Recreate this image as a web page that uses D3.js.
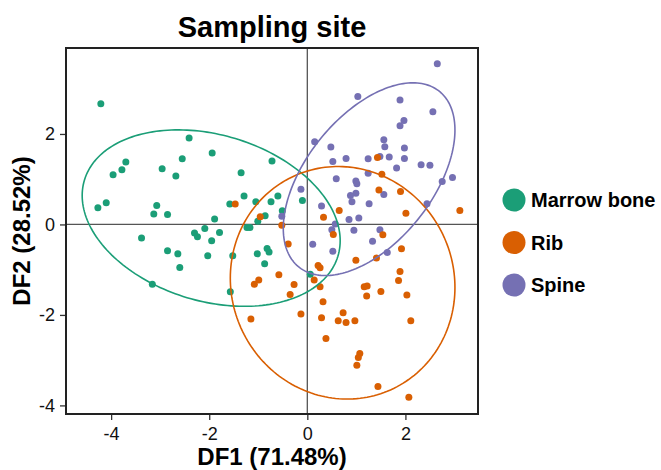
<!DOCTYPE html>
<html>
<head>
<meta charset="utf-8">
<script src="https://cdn.jsdelivr.net/npm/d3@7"></script>
<style>
  html, body { margin: 0; padding: 0; background: #fff; }
  svg { display: block; font-family: "Liberation Sans", Arial, sans-serif; }
</style>
</head>
<body>
<svg id="chart" width="661" height="470"></svg>
<script>
// Discriminant scores per sampling site: [DF1, DF2]
const marrowBone = [
  [-4.21, 2.67], [-2.41, 1.91], [-3.70, 1.38], [-2.55, 1.45], [-3.78, 1.21],
  [-3.96, 1.10], [-2.96, 1.23], [-2.68, 1.07], [-1.94, 1.58], [-0.72, 1.40],
  [-1.35, 1.14], [-1.29, 0.63], [-1.58, 0.45], [-1.05, 0.50], [-0.74, 0.50],
  [-0.60, 0.63], [-0.10, 0.53], [-0.51, 0.30], [-0.86, 0.19], [-1.01, 0.07],
  [-1.89, 0.12], [-2.09, -0.09], [-1.79, -0.18], [-1.23, -0.07], [-1.17, -0.07],
  [-2.30, -0.19], [-2.24, -0.27], [-1.95, -0.36], [-0.82, -0.53], [-0.78, -0.61],
  [-1.02, -0.65], [-1.52, -0.69], [-2.03, -0.69], [-0.87, -0.87], [-1.57, -1.49],
  [0.06, -1.10], [-4.10, 0.48], [-4.27, 0.37], [-3.07, 0.42], [-3.13, 0.23],
  [-2.85, 0.22], [-3.38, -0.30], [-2.85, -0.58], [-2.64, -0.65], [-2.60, -0.95],
  [-3.16, -1.32]
];
const rib = [
  [-1.47, 0.45], [-0.96, 0.17], [-0.52, -0.02], [-0.39, -0.43], [1.43, 1.48],
  [1.52, 1.11], [1.46, 0.76], [1.90, 0.73], [3.11, 0.31], [2.01, 0.25],
  [0.65, 0.31], [0.33, 0.16], [0.53, -0.22], [1.54, -0.23], [1.92, -0.54],
  [0.99, -0.79], [1.41, -0.74], [0.22, -0.91], [0.26, -0.96], [1.89, -1.04],
  [1.86, -1.24], [0.14, -1.23], [-0.58, -1.11], [-0.99, -1.23], [-1.08, -1.32],
  [-0.27, -1.33], [-0.35, -1.55], [0.26, -1.38], [1.16, -1.38], [1.22, -1.36],
  [1.21, -1.58], [1.50, -1.48], [2.03, -1.56], [0.32, -1.71], [0.29, -2.06],
  [-0.13, -1.98], [0.63, -2.13], [0.73, -1.95], [0.79, -2.17], [0.97, -2.13],
  [2.11, -2.13], [-1.15, -2.09], [0.38, -2.52], [1.07, -2.85], [1.04, -2.94],
  [1.01, -3.11], [1.44, -3.58], [2.07, -3.82]
];
const spine = [
  [2.65, 3.55], [1.03, 2.83], [1.89, 2.75], [2.56, 2.49], [1.97, 2.30],
  [1.89, 2.18], [0.15, 1.83], [0.48, 1.71], [1.56, 1.87], [1.58, 1.72],
  [1.98, 1.69], [0.52, 1.39], [0.79, 1.46], [1.24, 1.45], [1.48, 1.50],
  [1.67, 1.49], [1.98, 1.46], [1.82, 1.25], [2.32, 1.32], [2.50, 1.31],
  [1.24, 1.13], [0.59, 1.01], [0.99, 0.96], [1.01, 0.90], [0.99, 0.69],
  [0.88, 0.64], [0.91, 0.50], [1.56, 0.66], [2.75, 0.95], [2.96, 1.04],
  [2.44, 0.46], [1.26, 0.46], [0.29, 0.41], [0.85, 0.11], [1.05, 0.14],
  [-0.13, 0.78], [0.57, 0.01], [0.50, -0.12], [0.95, -0.13], [1.48, -0.12],
  [1.33, -0.37], [0.11, -0.44], [0.52, -0.59], [1.63, -0.62], [-0.52, 0.18]
];

// Confidence ellipses: centre, spread along each axis, correlation
const ellipseMarrow = { cx: -1.96, cy: 0.14, sx: 2.63, sy: 1.95, rho: -0.256 };
const ellipseRib    = { cx: 0.72,  cy: -1.29, sx: 2.29, sy: 2.57, rho: -0.04 };
const ellipseSpine  = { cx: 1.26,  cy: 1.00, sx: 1.75, sy: 2.13, rho: 0.51 };

const siteNames  = ["Marrow bone", "Rib", "Spine"];
const siteColors = ["#1b9e77", "#d95f02", "#7570b3"];
const tickValues = [-4, -2, 0, 2];

const groups = [
  { name: siteNames[0], color: siteColors[0], pts: marrowBone, ell: ellipseMarrow },
  { name: siteNames[1], color: siteColors[1], pts: rib,        ell: ellipseRib },
  { name: siteNames[2], color: siteColors[2], pts: spine,      ell: ellipseSpine }
];

const svg = d3.select("#chart");
const plotLeft = 66, plotRight = 478, plotTop = 48, plotBottom = 414;

const x = d3.scaleLinear().domain([-4.92, 3.48]).range([plotLeft, plotRight]);
const y = d3.scaleLinear().domain([-4.19, 3.9]).range([plotBottom, plotTop]);

// zero reference lines
svg.append("line")
  .attr("x1", x(0)).attr("x2", x(0)).attr("y1", plotTop).attr("y2", plotBottom)
  .attr("stroke", "#555").attr("stroke-width", 1.3);
svg.append("line")
  .attr("x1", plotLeft).attr("x2", plotRight).attr("y1", y(0)).attr("y2", y(0))
  .attr("stroke", "#555").attr("stroke-width", 1.3);

// points: marrow bone, spine, then rib on top
const drawOrder = [groups[0], groups[2], groups[1]];
drawOrder.forEach(g => {
  svg.append("g").selectAll("circle").data(g.pts).join("circle")
    .attr("cx", d => x(d[0]))
    .attr("cy", d => y(d[1]))
    .attr("r", 3.5)
    .attr("fill", g.color);
});

// ellipse outline from centre, spreads and correlation
function ellipsePoints(e) {
  const n = 200, pts = [];
  const a = e.sx, c = e.rho * e.sy, d = e.sy * Math.sqrt(1 - e.rho * e.rho);
  for (let i = 0; i <= n; i++) {
    const t = (i / n) * 2 * Math.PI;
    const u = Math.cos(t), v = Math.sin(t);
    pts.push([e.cx + a * u, e.cy + c * u + d * v]);
  }
  return pts;
}
const line = d3.line().x(d => x(d[0])).y(d => y(d[1]));
groups.forEach(g => {
  svg.append("path")
    .attr("d", line(ellipsePoints(g.ell)))
    .attr("fill", "none")
    .attr("stroke", g.color)
    .attr("stroke-width", 1.6);
});

// frame
svg.append("rect")
  .attr("x", plotLeft).attr("y", plotTop)
  .attr("width", plotRight - plotLeft).attr("height", plotBottom - plotTop)
  .attr("fill", "none").attr("stroke", "#222").attr("stroke-width", 2);

// axes
const fmt = d => String(d);
const xAxis = svg.append("g")
  .attr("transform", `translate(0,${plotBottom + 1})`)
  .call(d3.axisBottom(x).tickValues(tickValues).tickSize(5).tickPadding(7).tickFormat(fmt));
const yAxis = svg.append("g")
  .attr("transform", `translate(${plotLeft - 1},0)`)
  .call(d3.axisLeft(y).tickValues(tickValues).tickSize(5).tickPadding(5).tickFormat(fmt));
[xAxis, yAxis].forEach(a => {
  a.select(".domain").remove();
  a.selectAll(".tick line").attr("stroke", "#333").attr("stroke-width", 1.3);
  a.selectAll(".tick text").attr("fill", "#111")
    .style("font-size", "18px")
    .style("font-family", "'Liberation Sans', Arial, sans-serif");
});

// titles
svg.append("text")
  .attr("x", (plotLeft + plotRight) / 2).attr("y", 37)
  .attr("text-anchor", "middle")
  .style("font-size", "29px").style("font-weight", "bold")
  .attr("fill", "#000")
  .text("Sampling site");
svg.append("text")
  .attr("x", (plotLeft + plotRight) / 2).attr("y", 465)
  .attr("text-anchor", "middle")
  .style("font-size", "24px").style("font-weight", "bold")
  .attr("fill", "#000")
  .text("DF1 (71.48%)");
svg.append("text")
  .attr("transform", `translate(30,${(plotTop + plotBottom) / 2}) rotate(-90)`)
  .attr("text-anchor", "middle")
  .style("font-size", "24px").style("font-weight", "bold")
  .attr("fill", "#000")
  .text("DF2 (28.52%)");

// legend
const legend = svg.append("g");
groups.forEach((g, i) => {
  const cy = 200 + i * 42.5;
  legend.append("circle").attr("cx", 514).attr("cy", cy).attr("r", 11.5).attr("fill", g.color);
  legend.append("text")
    .attr("x", 531).attr("y", cy + 7)
    .style("font-size", "20px").style("font-weight", "bold")
    .attr("fill", "#000")
    .text(g.name);
});
</script>
</body>
</html>
